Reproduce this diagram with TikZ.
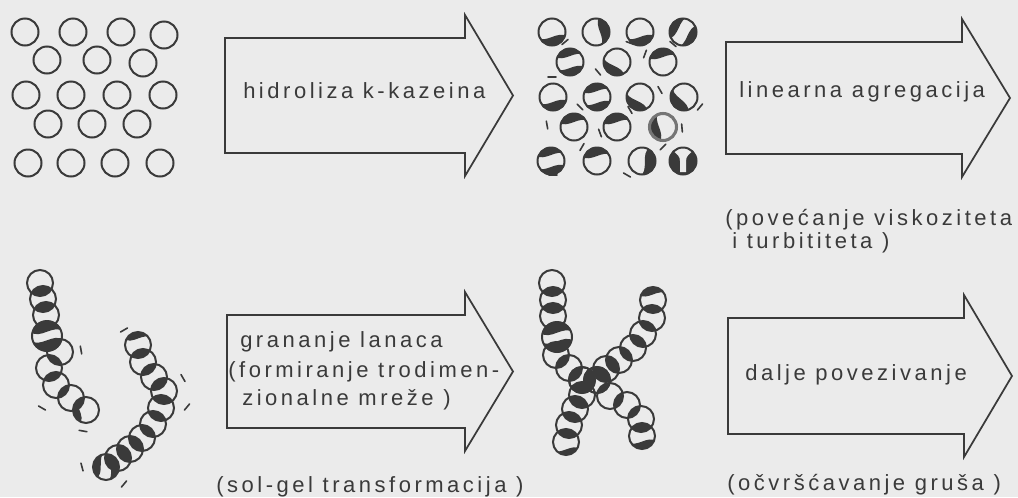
\documentclass[tikz,border=0pt]{standalone}
\usepackage{fontspec}
\setmainfont{Liberation Sans}[LetterSpace=16]
\usetikzlibrary{positioning}

\definecolor{ink}{HTML}{3A3A3A}
\definecolor{paper}{HTML}{EBEBEB}

% dark cap inside a micelle, #1 = level of the wavy edge
\tikzset{
  cap/.pic={
    \begin{scope}
      \clip (0,0) circle (14);
      \fill[ink] (-16,#1) .. controls (-6,#1+8) and (6,#1-8) .. (16,#1)
        -- (16,16) -- (-16,16) -- cycle;
    \end{scope}
  },
}

% block arrow: left x, top y, bottom y, tip x
\newcommand\flowarrow[4]{%
  \draw[arrowline] (#1,#2) -- (#4-48,#2) -- (#4-48,#2-23) -- (#4,{(#2+#3)/2})
    -- (#4-48,#3+23) -- (#4-48,#3) -- (#1,#3) -- cycle;}

% chain of micelles x/y/r, dark lens where neighbours touch
\newcommand\beadchain[1]{%
  \foreach \x/\y/\r [count=\i, remember=\x as \px (initially 0),
      remember=\y as \py (initially 0), remember=\r as \pr (initially 0)] in {#1}{%
    \ifnum\i>1
      \begin{scope}
        \clip (\px,\py) circle (\pr);
        \fill[ink] (\x,\y) circle (\r);
      \end{scope}
    \fi
    \draw[bead] (\x,\y) circle (\r);
  }}

\begin{document}
\begin{tikzpicture}[x=0.75pt,y=-0.75pt,
  bead/.style={draw=ink,line width=1.5pt},
  arrowline/.style={draw=ink,line width=1.3pt,line join=miter},
  txt/.style={text=ink,font=\fontsize{16.5}{20}\selectfont,inner sep=0pt,anchor=base west},
  flick/.style={draw=ink,line width=1.2pt,line cap=round}]

\fill[paper] (0,0) rectangle (1018,497);
\useasboundingbox (0,0) rectangle (1018,497);

% intact micelles
\foreach \x/\y in {25/32,73/32,121/32,164/35, 47/60,97/60,143/63,
    26/95,71/95,117/95,163/95, 48/124,92/124,137/124, 28/163,71/163,115/163,160/163}
  \draw[bead] (\x,\y) circle (13.5);

% micelles after hydrolysis
\foreach \x/\y/\a/\d in {552/32/0/5, 596/32/90/4, 640/32/0/5, 617/62/-45/5, 663/62/180/5,
    553/97/0/5, 640/97/-45/5, 684/97/-60/4, 574/127/180/5, 617/127/180/5,
    597/161/180/5, 642/161/70/3}
  {\pic[rotate=\a] at (\x,\y) {cap=\d};
   \draw[bead] (\x,\y) circle (13.5);}
\foreach \x/\y/\a/\d in {683/32/45/6, 570/62/0/6, 597/97/0/6, 551/161/0/6}
  {\pic[rotate=\a] at (\x,\y) {cap=\d};
   \pic[rotate=\a+180] at (\x,\y) {cap=\d};
   \draw[bead] (\x,\y) circle (13.5);}
\pic[rotate=-90] at (663,127) {cap=4};
\draw[draw=ink!70,line width=2.3pt] (663,127) circle (13.5);
\begin{scope}
  \clip (683,161) circle (13.5);
  \fill[ink] (683,161) circle (14);
  \fill[paper] (669,145) -- (697,145) -- (694,150) .. controls (689,154) and (686,156) .. (686,161)
    -- (686,172) -- (680,172) -- (680,161) .. controls (680,156) and (677,154) .. (672,150) -- cycle;
\end{scope}
\draw[bead] (683,161) circle (13.5);

\foreach \x/\y/\a in {565/42/-40, 630/43/20, 673/44/40, 645/54/-70, 552/77/0, 598/72/50,
    660/90/60, 580/107/45, 630/110/60, 700/107/-50, 547/125/80, 600/133/70,
    682/128/85, 663/147/-45, 582/147/-60, 553/175/0, 627/175/30}
  \draw[flick] (\x,\y) ++(\a:-4) -- ++(\a:8);

% arrows
\flowarrow{225}{38}{153}{513}
\flowarrow{726}{42}{154}{1010}
\flowarrow{227}{315}{428}{513}
\flowarrow{728}{318}{434}{1012}

\node[txt] (hydrolysis) at (243,98) {hidroliza k-kazeina};
\node[txt] (aggregation) at (739,97) {linearna agregacija};
\node[txt] (viscosity) at (725,225) {(povećanje viskoziteta};
\node[txt] (turbidity) at (732,248) {i turbititeta )};
\node[txt] (branching) at (240,347) {grananje lanaca};
\node[txt] (network) at (228,377) {(formiranje trodimen-};
\node[txt] (network2) at (242,405) {zionalne mreže )};
\node[txt] (solgel) at (216,492) {(sol-gel transformacija )};
\node[txt] (linking) at (745,380) {dalje povezivanje};
\node[txt] (curd) at (727,490) {(očvršćavanje gruša )};

% linear chains
\pic[scale=1.07] at (47,336) {cap=4};
\pic[scale=1.07,rotate=180] at (47,336) {cap=4};
\pic[scale=.93,rotate=-90] at (86,410) {cap=7};
\pic[scale=.93,rotate=180] at (138,345) {cap=7};
\pic[scale=.93,rotate=70] at (106,467) {cap=6};
\pic[scale=.93,rotate=250] at (106,467) {cap=6};
\beadchain{40/283/13,43/299/13,46/315/13,47/336/15,60/352/13,49/368/13,56/385/13,71/398/13,86/410/13}
\beadchain{138/345/13,143/362/13,154/377/13,164/391/13,161/408/13,153/424/13,142/438/13,130/449/13,118/458/13,106/467/13}
\foreach \x/\y/\a in {81/350/80, 42/408/30, 83/431/10, 124/330/-30, 183/378/60,
    187/407/-50, 82/467/75, 124/484/-50}
  \draw[flick] (\x,\y) ++(\a:-4) -- ++(\a:8);

% branched chains
\pic[scale=1.07] at (557,337) {cap=4};
\pic[scale=1.07,rotate=180] at (557,337) {cap=4};
\pic[scale=.93,rotate=180] at (653,300) {cap=6};
\pic[scale=.93] at (642,436) {cap=6};
\pic[scale=.93] at (566,442) {cap=8};
\beadchain{552/283/13,553/300/13,553/316/13,557/337/15,556/355/13,569/368/13,582/380/13,582/395/13,575/409/13,569/425/13,566/442/13}
\beadchain{653/300/13,652/318/13,643/334/13,633/348/13,619/360/13,606/369/13,597/380/13,610/396/13,627/405/13,641/419/13,642/436/13}
\beadchain{582/380/13,597/380/13}
\end{tikzpicture}
\end{document}
